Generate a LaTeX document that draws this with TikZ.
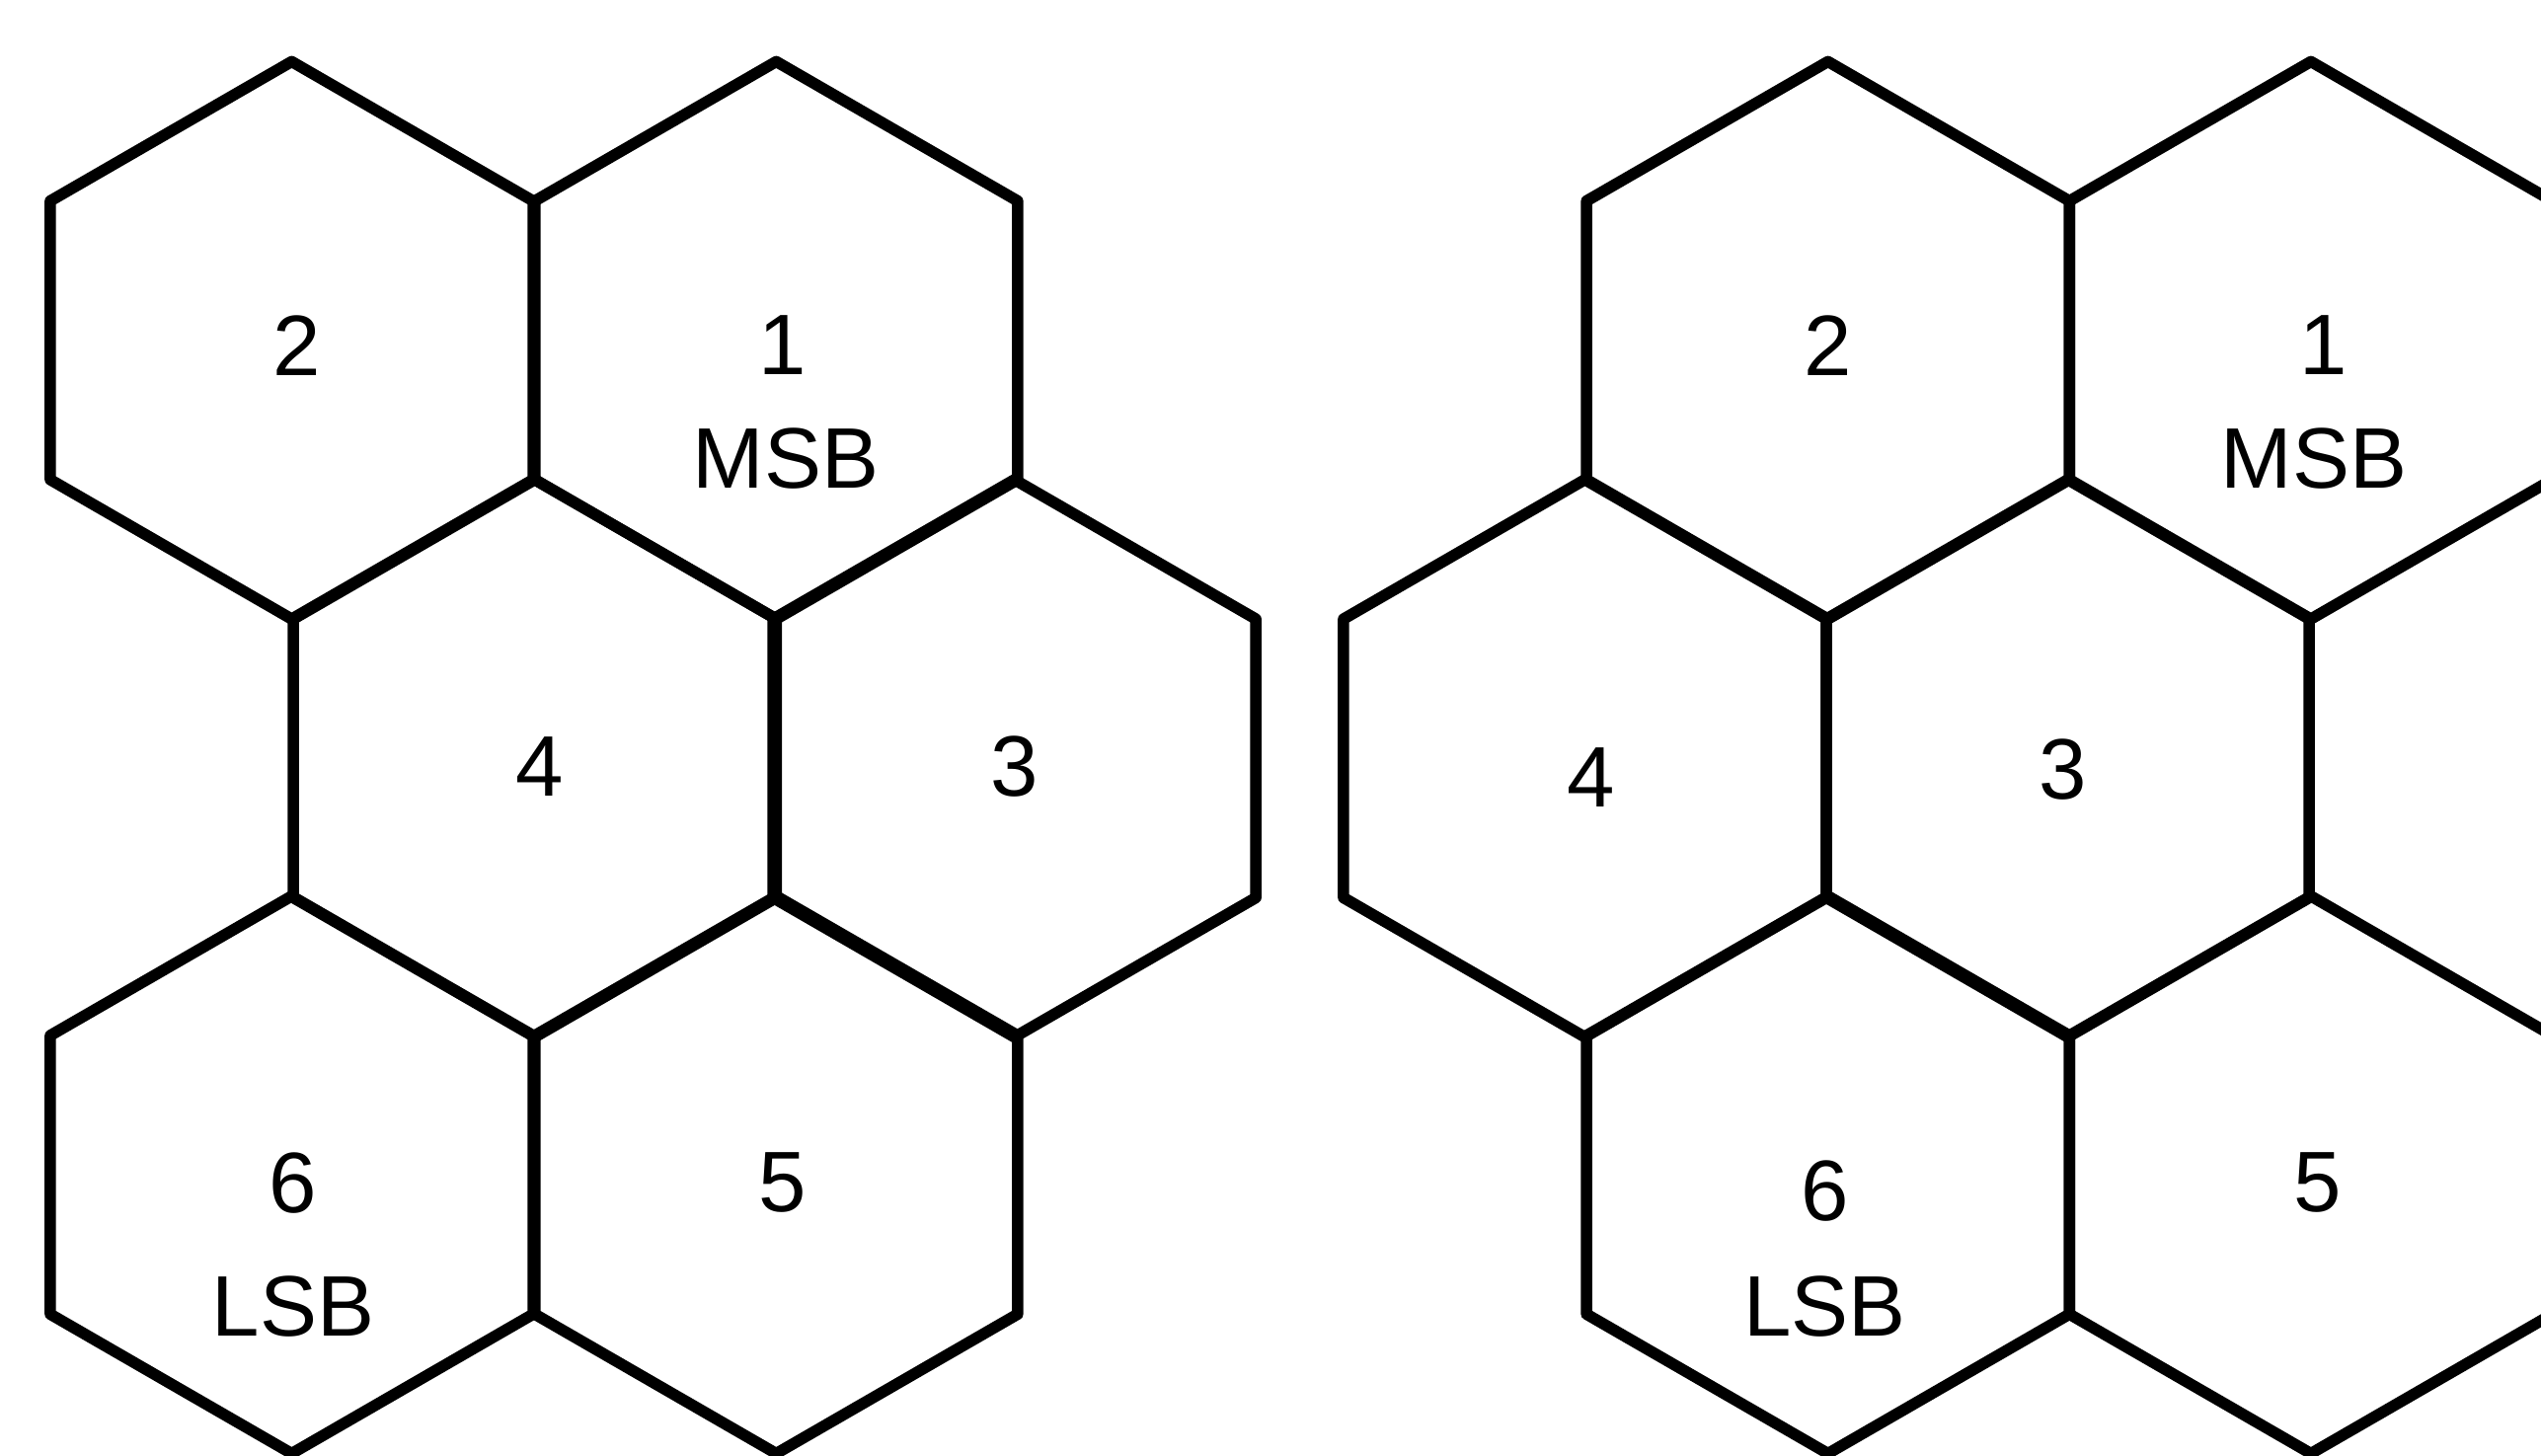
\documentclass[tikz,border=0pt]{standalone}
\usepackage{fontspec}
\setmainfont{Liberation Sans}
\usetikzlibrary{shapes.geometric}
\begin{document}
\begin{tikzpicture}[x=1pt,y=-1pt,
  hexcell/.style={draw=black, line width=7pt, line join=round, regular polygon, regular polygon sides=6,
    shape border rotate=30, minimum size=344pt, inner sep=0pt, outer sep=0pt},
  celltext/.style={inner sep=0pt, font=\fontsize{53}{64}\selectfont}]
\useasboundingbox (0,0) rectangle (1568,898.5);
% left cluster
\node[hexcell] (L2) at (180,210) {};
\node[hexcell] (L1) at (479,210) {};
\node[hexcell] (L4) at (330,468) {};
\node[hexcell] (L3) at (626,468) {};
\node[hexcell] (L6) at (180,725) {};
\node[hexcell] (L5) at (479,725) {};
% right cluster
\node[hexcell] (R2) at (1128,210) {};
\node[hexcell] (R1) at (1426,210) {};
\node[hexcell] (R4) at (978,468) {};
\node[hexcell] (R3) at (1276,468) {};
\node[hexcell] (R6) at (1128,725) {};
\node[hexcell] (R5) at (1426,725) {};
% labels left
\node[celltext] (tL2) at ([xshift=3pt,yshift=-3pt]L2.center) {2};
\node[celltext] (tL1) at ([xshift=4pt,yshift=-3pt]L1.center) {1};
\node[celltext] (mL1) at ([xshift=6pt,yshift=-73pt]L1.center) {MSB};
\node[celltext] (tL4) at ([xshift=3pt,yshift=-5pt]L4.center) {4};
\node[celltext] (tL3) at ([xshift=0pt,yshift=-5pt]L3.center) {3};
\node[celltext] (tL6) at ([xshift=1pt,yshift=-5pt]L6.center) {6};
\node[celltext] (mL6) at ([xshift=1pt,yshift=-81pt]L6.center) {LSB};
\node[celltext] (tL5) at ([xshift=4pt,yshift=-5pt]L5.center) {5};
% labels right
\node[celltext] (tR2) at ([xshift=0pt,yshift=-3pt]R2.center) {2};
\node[celltext] (tR1) at ([xshift=8pt,yshift=-3pt]R1.center) {1};
\node[celltext] (mR1) at ([xshift=2pt,yshift=-73pt]R1.center) {MSB};
\node[celltext] (tR4) at ([xshift=4pt,yshift=-12pt]R4.center) {4};
\node[celltext] (tR3) at ([xshift=-3pt,yshift=-7pt]R3.center) {3};
\node[celltext] (tR6) at ([xshift=-2pt,yshift=-10pt]R6.center) {6};
\node[celltext] (mR6) at ([xshift=-2pt,yshift=-81pt]R6.center) {LSB};
\node[celltext] (tR5) at ([xshift=4pt,yshift=-5pt]R5.center) {5};
\end{tikzpicture}
\end{document}
